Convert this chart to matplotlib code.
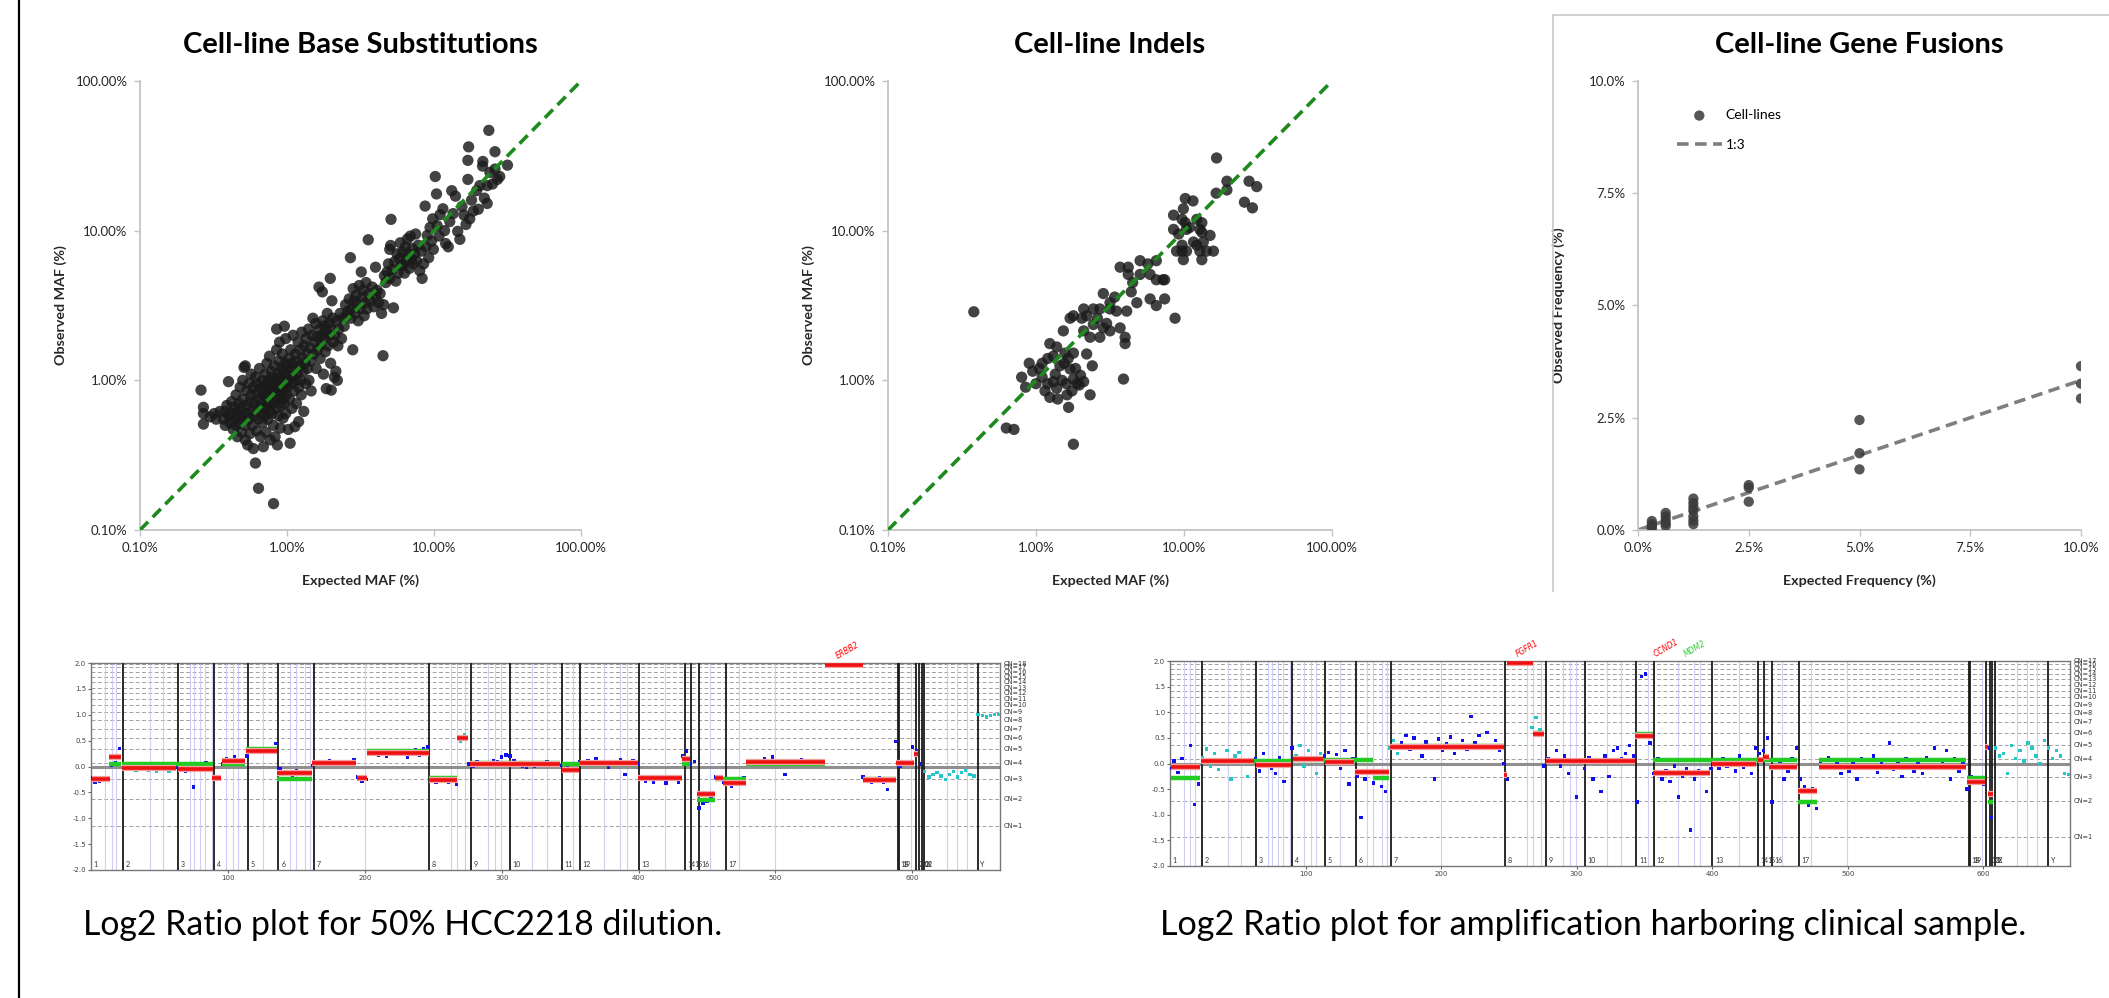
import numpy as np
import matplotlib.pyplot as plt
from matplotlib.lines import Line2D
from matplotlib.transforms import blended_transform_factory

plt.rcParams['font.family'] = ['Lato', 'DejaVu Sans']

W, H = 2109, 998

# ---------------- top row data ----------------
# base substitutions, (expected MAF %, observed MAF %)
bs_points = [
    (0.26, 0.86), (0.27, 0.66), (0.27, 0.51), (0.27, 0.6), (0.30, 0.57), (0.32, 0.6), (0.33, 0.55), (0.35, 0.62),
    (0.37, 0.55), (0.38, 0.62), (0.38, 0.5), (0.39, 0.68), (0.40, 0.58), (0.40, 0.98), (0.41, 0.52), (0.42, 0.72),
    (0.42, 0.6), (0.43, 0.47), (0.44, 0.66), (0.44, 0.55), (0.45, 0.8), (0.45, 0.5), (0.46, 0.62), (0.46, 0.42),
    (0.47, 0.7), (0.47, 0.57), (0.48, 0.9), (0.48, 0.52), (0.49, 0.65), (0.49, 0.45), (0.50, 0.75), (0.50, 1.0),
    (0.50, 0.58), (0.51, 1.22), (0.52, 1.25), (0.52, 0.5), (0.52, 0.4), (0.53, 0.68), (0.53, 0.85), (0.54, 0.6),
    (0.54, 0.37), (0.55, 0.95), (0.55, 0.55), (0.56, 0.72), (0.56, 0.44), (0.57, 0.8), (0.57, 1.1), (0.58, 0.62),
    (0.58, 0.5), (0.59, 0.9), (0.59, 0.35), (0.60, 0.7), (0.60, 0.58), (0.61, 0.28), (0.61, 1.05), (0.62, 0.82),
    (0.62, 0.46), (0.63, 0.65), (0.63, 0.95), (0.64, 0.55), (0.64, 0.19), (0.65, 0.75), (0.65, 1.2), (0.66, 0.88),
    (0.66, 0.42), (0.67, 0.6), (0.67, 0.7), (0.68, 1.0), (0.68, 0.52), (0.69, 0.8), (0.69, 0.36), (0.70, 0.65),
    (0.70, 0.92), (0.71, 1.1), (0.71, 0.58), (0.72, 0.78), (0.72, 0.45), (0.73, 0.9), (0.73, 1.3), (0.74, 0.68),
    (0.74, 0.55), (0.75, 1.0), (0.75, 0.82), (0.76, 0.62), (0.76, 1.45), (0.77, 0.72), (0.77, 0.4), (0.78, 0.95),
    (0.78, 1.15), (0.79, 0.85), (0.79, 0.6), (0.80, 1.05), (0.80, 0.7), (0.81, 0.15), (0.81, 0.5), (0.82, 0.88),
    (0.82, 1.25), (0.83, 0.78), (0.83, 0.42), (0.84, 1.0), (0.84, 0.65), (0.85, 2.2), (0.85, 1.6), (0.86, 0.9),
    (0.86, 0.37), (0.87, 1.1), (0.87, 0.75), (0.88, 1.35), (0.88, 0.58), (0.89, 0.95), (0.89, 1.8), (0.90, 0.82),
    (0.90, 0.48), (0.91, 1.05), (0.91, 0.68), (0.92, 1.2), (0.92, 0.9), (0.93, 0.75), (0.93, 1.5), (0.94, 1.0),
    (0.94, 0.56), (0.95, 1.15), (0.95, 0.85), (0.96, 2.3), (0.96, 0.7), (0.97, 1.3), (0.97, 0.95), (0.98, 1.9),
    (0.98, 0.6), (0.99, 1.08), (0.99, 0.8), (1.00, 1.25), (1.00, 0.9), (1.02, 0.47), (1.02, 1.0), (1.03, 1.4),
    (1.04, 0.75), (1.05, 1.15), (1.05, 0.38), (1.06, 1.6), (1.07, 0.95), (1.08, 0.65), (1.08, 1.3), (1.10, 1.05),
    (1.10, 2.0), (1.12, 0.85), (1.12, 1.2), (1.13, 0.49), (1.14, 1.5), (1.15, 1.0), (1.16, 0.7), (1.17, 1.35),
    (1.18, 1.1), (1.19, 1.8), (1.20, 0.53), (1.20, 0.9), (1.22, 1.25), (1.23, 1.6), (1.24, 1.0), (1.25, 0.8),
    (1.26, 2.1), (1.28, 1.4), (1.29, 1.15), (1.30, 0.62), (1.31, 1.7), (1.33, 1.3), (1.34, 0.95), (1.35, 1.9),
    (1.37, 1.5), (1.38, 1.2), (1.40, 2.2), (1.41, 1.0), (1.43, 1.65), (1.45, 1.35), (1.46, 0.85), (1.48, 2.0),
    (1.50, 2.6), (1.52, 1.5), (1.55, 1.8), (1.57, 2.4), (1.58, 1.2), (1.60, 1.95), (1.62, 1.6), (1.65, 4.2),
    (1.66, 2.2), (1.68, 1.4), (1.70, 1.75), (1.72, 2.0), (1.74, 3.9), (1.75, 2.5), (1.77, 1.1), (1.79, 1.9),
    (1.80, 2.3), (1.82, 1.55), (1.85, 0.88), (1.86, 2.1), (1.88, 2.8), (1.90, 1.7), (1.93, 2.4), (1.95, 2.0),
    (1.97, 4.8), (1.98, 1.3), (2.00, 0.86), (2.00, 2.2), (2.02, 3.4), (2.05, 2.6), (2.07, 1.8), (2.10, 1.05),
    (2.12, 2.0), (2.15, 1.15), (2.18, 2.5), (2.20, 1.0), (2.22, 1.7), (2.25, 2.2), (2.30, 2.8), (2.35, 1.9),
    (2.40, 2.6), (2.45, 2.3), (2.50, 3.2), (2.55, 2.7), (2.60, 2.9), (2.65, 3.5), (2.70, 6.6), (2.72, 2.6),
    (2.75, 3.0), (2.80, 1.6), (2.82, 4.1), (2.85, 3.4), (2.90, 2.8), (2.95, 3.7), (3.00, 3.2), (3.05, 2.5),
    (3.10, 4.3), (3.15, 3.0), (3.20, 5.3), (3.25, 3.6), (3.30, 4.0), (3.35, 2.7), (3.40, 3.3), (3.45, 4.5),
    (3.50, 3.0), (3.57, 8.7), (3.60, 3.8), (3.70, 3.4), (3.80, 4.2), (3.90, 3.1), (4.00, 5.7), (4.00, 3.6),
    (4.10, 4.0), (4.20, 3.3), (4.30, 3.8), (4.40, 2.8), (4.50, 1.46), (4.55, 3.2), (4.60, 5.0), (4.70, 4.5),
    (4.80, 5.3), (4.90, 6.0), (5.00, 4.8), (5.00, 7.5), (5.07, 7.96), (5.10, 11.9), (5.20, 5.5), (5.30, 3.05),
    (5.40, 6.2), (5.50, 4.6), (5.60, 7.0), (5.70, 5.2), (5.80, 6.5), (5.90, 8.3), (6.00, 5.8), (6.10, 7.2),
    (6.20, 6.0), (6.30, 5.2), (6.40, 7.8), (6.50, 6.4), (6.60, 8.8), (6.70, 7.0), (6.80, 5.6), (6.90, 9.2),
    (7.00, 6.6), (7.10, 7.6), (7.20, 6.0), (7.40, 7.0), (7.50, 9.5), (7.60, 6.3), (7.80, 8.0), (8.00, 5.4),
    (8.20, 7.3), (8.30, 4.8), (8.50, 6.0), (8.70, 14.6), (8.80, 7.8), (9.00, 9.3), (9.20, 6.6), (9.40, 10.5),
    (9.60, 8.5), (9.80, 12.0), (9.90, 7.5), (10.2, 23.0), (10.4, 17.6), (10.5, 10.8), (10.8, 9.2), (11.0, 12.8),
    (11.5, 14.0), (11.8, 10.0), (12.0, 8.2), (12.5, 7.8), (12.8, 11.5), (13.2, 18.5), (13.5, 13.0), (14.0, 17.0),
    (14.5, 9.9), (15.0, 8.75), (15.5, 14.5), (16.0, 12.7), (16.5, 11.0), (17.0, 29.5), (17.0, 22.0), (17.2, 36.3),
    (17.5, 12.0), (18.0, 16.0), (18.5, 13.5), (19.5, 18.5), (20.0, 13.9), (20.5, 20.0), (21.4, 27.0), (21.5, 29.0),
    (22.0, 16.5), (23.0, 15.2), (23.0, 20.0), (23.6, 46.8), (24.0, 24.5), (25.0, 20.5), (26.0, 25.8), (26.0, 33.7),
    (27.0, 22.0), (28.0, 23.0), (31.6, 27.4),
]

# indels, (expected MAF %, observed MAF %)
indel_points = [
    (0.38, 2.87), (0.63, 0.48), (0.71, 0.47), (0.80, 1.05), (0.85, 0.9), (0.90, 1.3), (0.95, 1.15), (1.00, 0.95),
    (1.05, 1.2), (1.10, 1.05), (1.10, 1.3), (1.15, 0.85), (1.20, 1.4), (1.20, 0.95), (1.24, 0.77), (1.24, 1.76),
    (1.31, 0.98), (1.31, 1.45), (1.35, 1.1), (1.38, 0.885), (1.38, 1.67), (1.40, 0.75), (1.45, 1.25), (1.50, 1.0),
    (1.53, 2.14), (1.55, 1.3), (1.57, 1.52), (1.60, 0.95), (1.62, 0.80), (1.65, 1.4), (1.66, 0.66), (1.70, 2.6),
    (1.70, 1.19), (1.75, 0.85), (1.79, 2.7), (1.79, 1.52), (1.79, 1.02), (1.79, 0.374), (1.85, 1.2), (1.90, 0.95),
    (1.96, 0.93), (2.00, 1.08), (2.04, 2.6), (2.10, 3.0), (2.10, 2.14), (2.10, 0.98), (2.20, 1.5), (2.20, 2.7),
    (2.32, 1.94), (2.32, 0.80), (2.40, 1.25), (2.44, 3.0), (2.44, 2.36), (2.60, 2.6), (2.70, 3.0), (2.70, 1.94),
    (2.85, 3.8), (2.85, 2.24), (3.00, 2.4), (3.16, 3.0), (3.16, 3.3), (3.16, 2.14), (3.40, 3.6), (3.50, 2.9),
    (3.70, 5.7), (3.70, 2.24), (3.90, 1.02), (4.00, 1.94), (4.00, 1.76), (4.10, 2.9), (4.20, 5.7), (4.20, 5.1),
    (4.40, 3.9), (4.50, 4.5), (4.80, 3.3), (5.05, 6.3), (5.05, 5.1), (5.70, 6.0), (5.90, 3.5), (5.90, 5.1),
    (6.50, 6.3), (6.50, 4.7), (6.50, 3.16), (7.20, 4.7), (7.40, 3.5), (7.40, 4.7), (8.50, 12.7), (8.50, 10.2),
    (8.70, 2.6), (8.90, 7.3), (9.20, 9.5), (9.70, 8.0), (9.70, 11.9), (9.70, 7.3), (9.90, 14.0), (9.90, 6.4),
    (10.2, 16.4), (10.2, 11.3), (10.4, 10.2), (10.4, 7.3), (10.9, 10.5), (11.5, 15.8), (11.6, 8.4), (12.2, 11.9),
    (12.2, 8.0), (12.8, 7.3), (12.8, 10.2), (13.2, 11.3), (13.2, 9.75), (13.2, 6.4), (13.5, 8.4), (14.2, 7.3),
    (15.0, 9.3), (15.8, 7.3), (16.5, 17.8), (16.6, 30.6), (19.5, 21.4), (19.5, 18.7), (25.6, 15.5), (27.5, 21.4),
    (29.0, 14.2), (31.0, 19.7),
]

# gene fusions, expected vs observed frequency (%)
fusion_expected = [0.3125] * 4 + [0.625] * 5 + [1.25] * 7 + [2.5] * 3 + [5.0] * 3 + [10.0] * 3
fusion_observed = [0.20, 0.13, 0.08, 0.04,
                   0.38, 0.30, 0.22, 0.15, 0.09,
                   0.70, 0.60, 0.51, 0.43, 0.30, 0.21, 0.13,
                   1.00, 0.94, 0.63,
                   2.45, 1.71, 1.35,
                   3.65, 3.26, 2.93]

# ---------------- log2 ratio plot data ----------------
chrom_starts = [0, 23.4, 63.4, 90.2, 114.5, 136.9, 162.8, 247.1, 277.3, 306.0, 344.1, 357.2,
                400.1, 433.7, 438.6, 443.9, 463.9, 589.2, 590.5, 602.3, 604.8, 606.7, 608.5, 647.7]
chrom_labels = ['1', '2', '3', '4', '5', '6', '7', '8', '9', '10', '11', '12',
                '13', '14', '15', '16', '17', '18', '19', '20', '21', '22', 'X', 'Y']
gene_lines = [10.2, 15.1, 18.5, 42.9, 52.6, 72.1, 75.5, 79.4, 83.3, 88.2, 98.9, 103.8, 107.7,
              125.7, 145.2, 150.1, 156.4, 159.8, 200.3, 263.2, 267.5, 273.4, 290.0, 294.8, 299.7,
              322.1, 332.8, 352.3, 374.8, 386.5, 391.3, 419.6, 451.8, 473.2, 499.5, 598.9, 625.2,
              632.5, 639.8]

# probe log2 ratios, every third probe
bl_dots = [
    -0.22, -0.30, -0.28, -0.24, -0.26,
    0.03, 0.08, 0.35,
    0.02, -0.05, 0.0, -0.07, -0.03, 0.02, -0.08, -0.04, -0.1, -0.06, -0.02, -0.09, -0.05,
    -0.02, -0.06, -0.1, -0.08, -0.4, 0.0, 0.05, 0.08, 0.06,
    -0.25, -0.2,
    0.05, 0.15, 0.12, 0.18, 0.1, 0.06,
    0.2, 0.28, 0.3, 0.33, 0.27, 0.35, 0.32, 0.45,
    -0.05, -0.15, -0.1, -0.2, -0.08, -0.16, -0.12, -0.14,
    0.02, 0.08, 0.1, 0.05, 0.12, 0.06, 0.09, 0.04, 0.1, 0.07, 0.13,
    -0.2, -0.28, -0.25,
    0.25, 0.3, 0.22, 0.28, 0.2, 0.26, 0.3, 0.23, 0.27, 0.18, 0.25, 0.32, 0.22, 0.35, 0.38,
    -0.22, -0.3, -0.28, -0.25, -0.3, -0.27, -0.35,
    0.48, 0.62,
    0.05, 0.0, 0.1, 0.03, 0.07, 0.05, 0.12, 0.1, 0.18, 0.22, 0.2, 0.12, 0.02, 0.0, -0.02, 0.05,
    0.0, 0.03, 0.06, 0.1, 0.04, 0.08, 0.02,
    -0.05, 0.0, -0.08, -0.1,
    0.1, 0.05, 0.12, 0.06, 0.15, 0.08, 0.04, -0.02, 0.1, 0.07, 0.13, -0.15, 0.09, 0.12, 0.05,
    -0.2, -0.28, -0.22, -0.3, -0.25, -0.2, -0.32, -0.24, -0.22, -0.3,
    0.2, 0.3, 0.05, 0.1,
    -0.8, -0.72, -0.68, -0.6,
    -0.2, -0.25, -0.3,
    -0.3, -0.38, -0.35, -0.28, -0.22,
    0.05, 0.1, 0.08, 0.12, 0.15, 0.1, 0.18, 0.12, 0.08, -0.15, 0.1, 0.12, 0.09, 0.14, 0.1,
    0.12, 0.08, 0.1, 0.12,
    np.nan, np.nan, np.nan, np.nan, np.nan, np.nan, np.nan, np.nan, np.nan,
    -0.2, -0.25, -0.3, -0.28, -0.22, -0.3, -0.45, -0.25,
    0.48, 0.0, 0.05, 0.1, 0.38,
    0.3, 0.05,
    -0.1, -0.2, -0.15, -0.12, -0.18, -0.25, -0.15, -0.1, -0.2, -0.12, -0.08, -0.15, -0.18,
    1.0, 0.98, 0.96, 0.98, 1.0, 1.01,
]
br_dots = [
    -0.1, 0.05, -0.18, 0.1, -0.05,
    0.35, -0.8, -0.4,
    0.12, 0.28, -0.05, 0.2, -0.12, 0.05, 0.25, -0.3, 0.15, 0.22, 0.0, -0.25, 0.08,
    0.1, -0.15, 0.2, 0.05, -0.1, -0.2, 0.12, -0.35, 0.0,
    0.3, 0.15,
    0.35, -0.05, 0.25, 0.1, -0.2, 0.2,
    0.15, 0.22, 0.0, 0.18, -0.1, 0.25, -0.4, 0.1,
    -0.25, -1.05, -0.3, -0.15, -0.38, -0.2, -0.45, -0.55,
    0.3, 0.45, 0.2, 0.4, 0.55, 0.28, 0.5, 0.35, 0.15, 0.42, 0.3,
    -0.3, 0.48, 0.25,
    0.38, 0.52, 0.2, 0.35, 0.45, 0.28, 0.92, 0.4, 0.55, 0.3, 0.6, 0.35, 0.45, 0.25, 0.0,
    -0.3, np.nan, np.nan, np.nan, np.nan, np.nan, 0.7,
    0.9, 0.65,
    -0.05, 0.1, 0.05, 0.25, -0.05, 0.15, -0.2, 0.08, -0.65, 0.02, -0.1, 0.12, -0.3, 0.05, -0.55,
    0.15, -0.25, 0.25, 0.3, 0.1, 0.2, 0.35, 0.15,
    -0.75, 1.7, 1.75, 0.4,
    -0.2, 0.1, -0.3, -0.15, -0.35, -0.05, -0.65, -0.25, -0.1, -1.3, -0.3, -0.15, -0.2, -0.55, -0.1,
    0.05, -0.1, 0.1, -0.05, 0.0, -0.15, 0.15, -0.08, 0.05, -0.2,
    0.3, 0.2, 0.25, 0.5,
    -0.75, -0.1, 0.05, -0.3,
    -0.15, 0.1, 0.3,
    -0.3, -0.45, -0.82, -0.5, -0.88,
    0.05, -0.1, 0.12, -0.05, 0.0, -0.2, 0.08, -0.15, 0.02, -0.3, 0.1, -0.1, -0.05, 0.15, -0.18,
    0.0, -0.08, 0.4, -0.12,
    0.05, -0.25, 0.1, -0.05, -0.15, 0.02, -0.2, 0.12, -0.1,
    0.3, -0.08, 0.05, 0.25, -0.3, 0.1, -0.15, 0.0,
    -0.5, -0.25, -0.3, -0.35, -0.4,
    0.3, -1.05,
    0.3, 0.15, 0.2, -0.2, 0.35, 0.1, 0.25, 0.05, 0.4, 0.3, 0.15, 0.0, 0.45,
    0.3, 0.1, 0.25, 0.15, -0.2, -0.22,
]
probe_step = 3
bl_cyan_spans = [(26, 61), (118, 128), (268, 276), (607, 664)]
br_cyan_spans = [(24, 62), (93, 112), (160, 170), (266, 276), (607, 664)]

# segment calls: red = segment mean, green = copy number call
bl_red_start = [0.5, 13.2, 22.4, 63.4, 88.7, 96.0, 113.5, 136.0, 161.3, 194.4, 201.8, 246.6, 267.1,
                276.8, 344.1, 357.2, 399.6, 431.8, 443.0, 456.1, 462.0, 478.1, 536.5, 563.8, 587.7, 600.9]
bl_red_end = [13.6, 21.9, 62.4, 89.2, 95.0, 112.6, 136.0, 161.3, 193.5, 201.8, 246.6, 267.1, 275.3,
              342.6, 356.2, 399.6, 431.8, 437.6, 455.7, 462.0, 478.1, 536.5, 563.8, 587.7, 600.9, 603.8]
bl_red_level = [-0.25, 0.19, -0.02, -0.04, -0.23, 0.10, 0.30, -0.12, 0.07, -0.23, 0.27, -0.27, 0.55,
                0.05, -0.06, 0.07, -0.22, 0.14, -0.54, -0.23, -0.32, 0.08, 1.96, -0.26, 0.06, 0.25]
bl_green_start = [13.2, 22.4, 96.0, 113.5, 136.0, 161.3, 201.8, 246.6, 267.1, 276.8, 344.1, 399.6,
                  431.8, 443.0, 456.1, 478.1, 536.5, 563.8, 587.7]
bl_green_end = [21.9, 89.2, 112.6, 136.0, 161.3, 193.5, 246.6, 267.1, 275.3, 342.6, 399.6, 431.8,
                437.6, 455.7, 478.1, 536.5, 563.8, 587.7, 600.9]
bl_green_level = [0.05, 0.05, 0.05, 0.33, -0.25, 0.07, 0.30, -0.23, 0.55, 0.07, 0.05, -0.23,
                  0.05, -0.64, -0.24, 0.05, 2.0, -0.24, 0.06]

br_red_start = [0.9, 22.6, 63.2, 90.6, 114.2, 136.3, 162.3, 246.2, 248.6, 267.5, 277.4, 342.9, 356.1,
                400.0, 433.5, 438.2, 442.0, 463.2, 478.8, 588.2, 601.4, 603.3]
br_red_end = [22.2, 62.3, 89.6, 113.2, 135.4, 161.3, 246.2, 248.6, 267.5, 276.0, 342.9, 356.1, 398.6,
              432.5, 437.3, 442.0, 462.3, 477.4, 587.3, 601.4, 603.3, 607.1]
br_red_level = [-0.07, 0.04, -0.02, 0.08, 0.03, -0.17, 0.33, -0.22, 1.96, 0.58, 0.05, 0.54, -0.18,
                0.0, 0.07, 0.13, -0.06, -0.53, -0.06, -0.37, 0.33, -0.60]
br_green_start = [0.9, 22.6, 90.6, 149.5, 162.3, 248.6, 267.5, 277.4, 342.9, 356.1, 463.2, 478.8, 588.2, 603.8]
br_green_end = [22.2, 89.6, 149.5, 161.3, 246.2, 267.5, 276.0, 342.9, 356.1, 462.3, 477.4, 587.3, 601.4, 607.1]
br_green_level = [-0.28, 0.05, 0.06, -0.28, 0.35, 2.0, 0.60, 0.05, 0.57, 0.06, -0.76, 0.06, -0.28, -0.76]

bl_cn_levels = [-1.155, -0.626, -0.232, 0.077, 0.335, 0.542, 0.729, 0.897, 1.045, 1.181, 1.297,
                1.419, 1.516, 1.632, 1.723, 1.826, 1.92, 1.987]
br_cn_levels = [-1.435, -0.735, -0.270, 0.088, 0.367, 0.601, 0.816, 0.992, 1.15, 1.29, 1.421,
                1.538, 1.655, 1.753, 1.85, 1.948, 2.0]

bl_genes = ['ERBB2']
bl_gene_x = [543]
bl_gene_colors = ['red']
br_genes = ['FGFR1', 'CCND1', 'MDM2']
br_gene_x = [254, 356, 378]
br_gene_colors = ['red', 'red', '#33cc33']


def fig_axes(left, top, right, bottom):
    # pixel box -> figure axes
    return fig.add_axes([left / W, 1 - bottom / H, (right - left) / W, (bottom - top) / H])


def style_scatter(ax, title, xlabel, ylabel):
    for s in ['top', 'right']:
        ax.spines[s].set_visible(False)
    for s in ['left', 'bottom']:
        ax.spines[s].set_color('#c4c4c4')
        ax.spines[s].set_linewidth(1.3)
    ax.tick_params(which='major', direction='out', length=4, width=1, color='#c4c4c4',
                   labelsize=9.5, labelcolor='#262626', pad=5)
    ax.tick_params(which='minor', length=0)
    ax.text(0.5, 1 + 36 / 449, title, transform=ax.transAxes, ha='center', va='center',
            fontsize=21, fontweight='bold')
    ax.set_xlabel(xlabel, fontsize=10.3, fontweight='bold', color='#262626')
    ax.set_ylabel(ylabel, fontsize=10.3, fontweight='bold', color='#262626')
    ax.xaxis.set_label_coords(0.5, -44 / 449)
    ax.yaxis.set_label_coords(-73 / 441, 0.5)


def maf_panel(ax, points, title):
    pts = np.array(points)
    ax.set_xscale('log')
    ax.set_yscale('log')
    ax.set_xlim(0.1, 100)
    ax.set_ylim(0.1, 100)
    ax.plot([0.1, 100], [0.1, 100], color='#1e8a1e', lw=2.6, dashes=(3.2, 1.8), zorder=3)
    ax.scatter(pts[:, 0], pts[:, 1], s=66, color='#1a1a1a', alpha=0.82, edgecolors='none', zorder=2)
    ticks = [0.1, 1, 10, 100]
    labels = ['0.10%', '1.00%', '10.00%', '100.00%']
    ax.set_xticks(ticks, labels)
    ax.set_yticks(ticks, labels)
    ax.xaxis.set_minor_locator(plt.NullLocator())
    ax.yaxis.set_minor_locator(plt.NullLocator())
    style_scatter(ax, title, 'Expected MAF (%)', 'Observed MAF (%)')


def log2_panel(ax, dots, cyan_spans, red, green, cn_levels, genes, gene_x, gene_colors):
    ax.set_xlim(0, 664)
    ax.set_ylim(-2, 2)
    for lvl in cn_levels:
        ax.axhline(lvl, color='#a0a0a0', lw=0.7, dashes=(4, 2.5), zorder=1)
    for gx in gene_lines:
        ax.axvline(gx, color='#cfcff5', lw=0.8, zorder=1)
    ax.axhline(0, color='#8f8f8f', lw=2.2, zorder=2)
    for cs in chrom_starts[1:]:
        ax.axvline(cs, color='#1a1a1a', lw=1.3, zorder=3)

    y = np.array(dots, dtype=float)
    x = np.arange(len(y)) * probe_step
    cyan = np.zeros(len(y), dtype=bool)
    for a, b in cyan_spans:
        cyan |= (x >= a) & (x < b)
    ax.scatter(x[~cyan], y[~cyan], s=6, marker='s', color='#1010ee', edgecolors='none', zorder=4)
    ax.scatter(x[cyan], y[cyan], s=6, marker='s', color='#22c8c8', edgecolors='none', zorder=4)

    gs, ge, gl = green
    ax.hlines(gl, gs, ge, color='#22cc22', lw=3.2, zorder=5)
    rs, re, rl = red
    ax.hlines(rl, rs, re, color='#f4a0a0', lw=4.5, zorder=5)
    ax.hlines(rl, rs, re, color='#ee1111', lw=2.6, zorder=6)

    for cs, lab in zip(chrom_starts, chrom_labels):
        ax.text(cs + 2, -1.96, lab, fontsize=5, color='#333333', va='bottom', ha='left', zorder=7)

    tr = blended_transform_factory(ax.transAxes, ax.transData)
    for i, lvl in enumerate(cn_levels):
        ax.text(1.004, lvl, 'CN=%d' % (i + 1), transform=tr, fontsize=4.8, color='#333333',
                va='center', ha='left', family='DejaVu Sans')

    for name, gx, gc in zip(genes, gene_x, gene_colors):
        ax.text(gx, 2.04, name, color=gc, fontsize=5.5, style='italic', rotation=30,
                ha='left', va='bottom', clip_on=False, family='DejaVu Sans')

    ax.set_yticks(np.arange(-2, 2.01, 0.5), ['%.1f' % v for v in np.arange(-2, 2.01, 0.5)])
    ax.set_xticks([100, 200, 300, 400, 500, 600])
    ax.tick_params(labelsize=5, length=2, color='#666666', labelcolor='#444444', pad=1.5)
    for lab in ax.get_xticklabels() + ax.get_yticklabels():
        lab.set_family('DejaVu Sans')
    for s in ax.spines.values():
        s.set_color('#777777')
        s.set_linewidth(1.0)


fig = plt.figure(figsize=(W / 100, H / 100), dpi=100)

# top row
ax1 = fig_axes(140, 81, 581, 530)
maf_panel(ax1, bs_points, 'Cell-line Base Substitutions')

ax2 = fig_axes(888, 81, 1332, 530)
maf_panel(ax2, indel_points, 'Cell-line Indels')

ax3 = fig_axes(1638, 81, 2081, 530)
ax3.set_xlim(0, 10)
ax3.set_ylim(0, 10)
ax3.plot([0, 10], [0, 10 / 3], color='#7f7f7f', lw=2.6, dashes=(3.2, 1.8), label='1:3', zorder=2)
ax3.scatter(fusion_expected, fusion_observed, s=55, color='#3a3a3a', alpha=0.85, edgecolors='none',
            label='Cell-lines', zorder=3)
fticks = [0, 2.5, 5, 7.5, 10]
flabels = ['0.0%', '2.5%', '5.0%', '7.5%', '10.0%']
ax3.set_xticks(fticks, flabels)
ax3.set_yticks(fticks, flabels)
style_scatter(ax3, 'Cell-line Gene Fusions', 'Expected Frequency (%)', 'Observed Frequency (%)')
h, l = ax3.get_legend_handles_labels()
ax3.legend(h[::-1], l[::-1], loc='upper left', bbox_to_anchor=(0.06, 0.965), frameon=False,
           fontsize=10, handlelength=3.2, labelspacing=1.3, handletextpad=0.3)

# bottom row
ax4 = fig_axes(91, 663, 1000, 870)
log2_panel(ax4, bl_dots, bl_cyan_spans, (bl_red_start, bl_red_end, bl_red_level),
           (bl_green_start, bl_green_end, bl_green_level), bl_cn_levels,
           bl_genes, bl_gene_x, bl_gene_colors)

ax5 = fig_axes(1170, 661, 2070, 866)
log2_panel(ax5, br_dots, br_cyan_spans, (br_red_start, br_red_end, br_red_level),
           (br_green_start, br_green_end, br_green_level), br_cn_levels,
           br_genes, br_gene_x, br_gene_colors)

fig.text(83 / W, 1 - 925 / H, 'Log2 Ratio plot for 50% HCC2218 dilution.', fontsize=24.3, va='center')
fig.text(1160 / W, 1 - 925 / H, 'Log2 Ratio plot for amplification harboring clinical sample.',
         fontsize=24.6, va='center')

# frame lines
fig.add_artist(Line2D([19 / W, 19 / W], [0, 1], color='black', lw=1.6, transform=fig.transFigure))
fig.add_artist(Line2D([1553 / W, 1553 / W], [1 - 15 / H, 1 - 591 / H], color='#c8c8c8', lw=1.2,
                      transform=fig.transFigure))
fig.add_artist(Line2D([1553 / W, 1], [1 - 15 / H, 1 - 15 / H], color='#c8c8c8', lw=1.2,
                      transform=fig.transFigure))

fig.savefig('out.png', dpi=100)
